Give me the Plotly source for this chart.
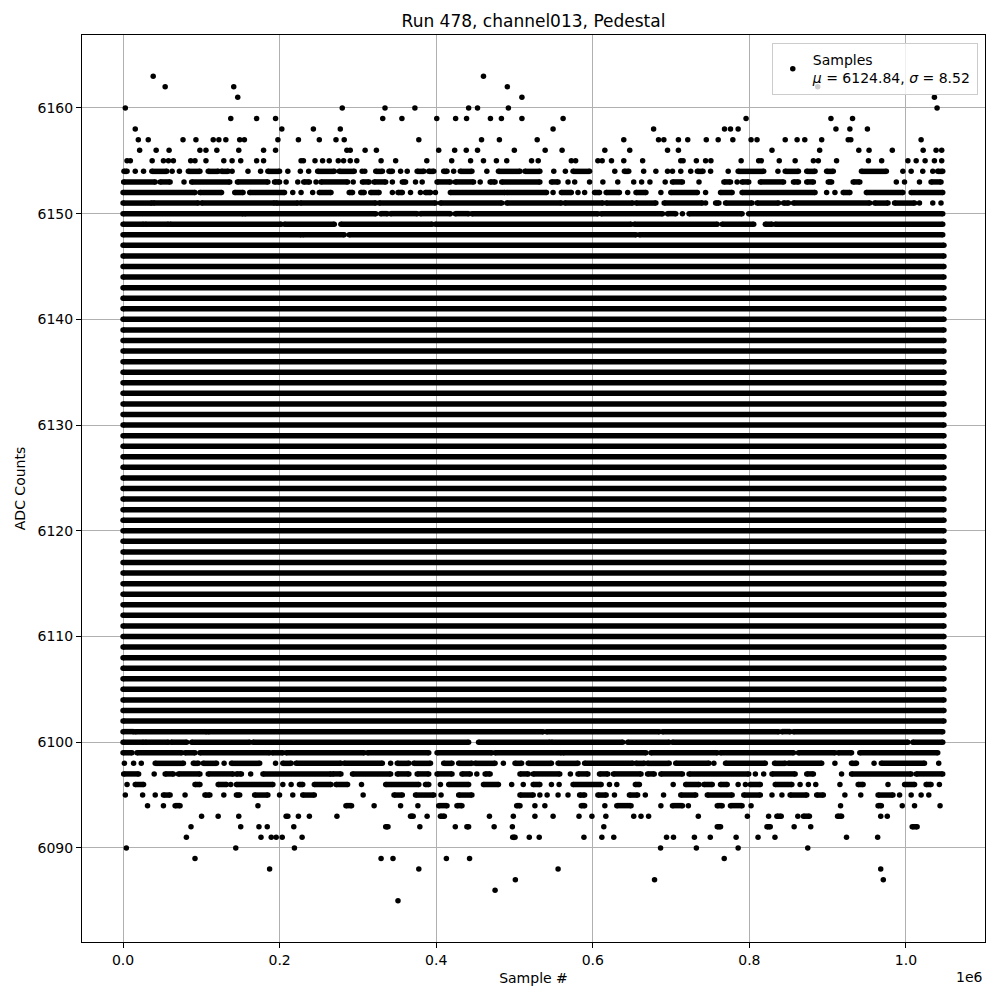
import plotly.graph_objects as go

# ---------------- data (sample positions in thousands of samples) ----------------
X_UNIT = 1000.0
TITLE = "Run 478, channel013, Pedestal"
X_LABEL = "Sample #"
Y_LABEL = "ADC Counts"
LEGEND_NAME = "Samples"
MU = 6124.84
SIGMA = 8.52
N_SAMPLES = 1048576

x_tick_vals = [0.0, 0.2, 0.4, 0.6, 0.8, 1.0]          # in units of 1e6
x_tick_text = ["0.0", "0.2", "0.4", "0.6", "0.8", "1.0"]
y_tick_vals = [6090, 6100, 6110, 6120, 6130, 6140, 6150, 6160]

# ADC levels that are occupied over the whole run
core_levels = [6102, 6103, 6104, 6105, 6106, 6107, 6108, 6109, 6110, 6111, 6112,
               6113, 6114, 6115, 6116, 6117, 6118, 6119, 6120, 6121, 6122, 6123,
               6124, 6125, 6126, 6127, 6128, 6129, 6130, 6131, 6132, 6133, 6134,
               6135, 6136, 6137, 6138, 6139, 6140, 6141, 6142, 6143, 6144, 6145,
               6146, 6147]
core_span = [0.0, 1048.575]

# runs of consecutive samples (start, end) at upper levels
high_runs = {
    6154: [[1.2, 5.1], [36.8, 55.9], [83.4, 98.2], [108.8, 121.5], [125.8, 134.2],
           [185.0, 199.9], [248.6, 269.8], [276.2, 295.3], [322.8, 331.3], [339.7, 344.0],
           [375.7, 384.2], [390.5, 396.9], [409.6, 413.8], [430.8, 445.6], [479.5, 507.0],
           [513.4, 532.4], [574.8, 595.9], [640.4, 645.9], [733.6, 740.8], [785.7, 818.3],
           [845.8, 862.7], [873.3, 883.9], [898.7, 907.2], [943.2, 975.0], [1040.6, 1047.0]],
    6153: [[0.8, 41.1], [47.4, 60.1], [87.6, 136.3], [146.1, 185.0], [193.5, 199.9],
           [230.8, 238.0], [252.8, 286.8], [305.8, 314.3], [320.7, 335.5], [356.7, 360.9],
           [401.1, 418.1], [424.4, 447.7], [468.9, 475.2], [483.7, 532.4], [547.2, 555.7],
           [701.8, 714.5], [767.5, 775.9], [790.7, 799.2], [814.0, 843.7], [856.4, 862.7],
           [873.3, 881.8], [900.8, 905.1], [932.6, 941.1], [1032.1, 1044.8]],
    6152: [[0.0, 91.9], [98.2, 125.8], [142.7, 153.3], [161.8, 206.2], [250.7, 265.6],
           [288.9, 293.1], [303.7, 308.0], [316.4, 327.0], [351.2, 356.7], [386.3, 392.7],
           [418.1, 487.9], [490.1, 540.9], [559.9, 572.6], [602.3, 608.6], [617.1, 634.0],
           [655.2, 667.9], [699.7, 733.6], [763.2, 778.0], [790.7, 883.9], [919.9, 928.4],
           [949.5, 996.1], [1006.7, 1047.0]],
    6151: [[0.0, 36.8], [38.9, 96.1], [100.3, 193.5], [195.6, 223.2], [226.5, 322.8],
           [327.0, 399.0], [405.4, 483.7], [490.1, 559.9], [564.2, 612.9], [617.1, 651.0],
           [655.2, 680.6], [691.2, 739.9], [756.9, 761.1], [769.6, 803.4], [809.8, 837.3],
           [843.7, 850.0], [856.4, 953.8], [960.1, 977.1], [985.5, 1011.0]],
    6150: [[0.0, 153.3], [155.4, 322.8], [329.1, 337.6], [341.8, 375.7], [379.9, 418.1],
           [424.4, 441.4], [445.6, 606.5], [610.7, 689.1], [695.5, 706.0], [723.0, 790.7],
           [799.2, 1047.0]],
    6149: [[0.0, 26.2], [28.4, 58.0], [60.1, 202.0], [206.2, 269.8], [278.3, 394.8],
           [399.0, 648.9], [653.1, 759.0], [765.3, 805.6], [820.4, 828.9], [833.1, 1047.0]],
    6148: [[0.0, 227.4], [229.5, 282.5], [288.9, 655.2], [659.5, 1047.0]],
}

# isolated samples at upper levels
high_points = {
    6163: [38.5, 460.4],
    6162: [53.8, 141.4, 490.9, 887.3],
    6161: [146.5, 509.5, 1036.4],
    6160: [2.9, 280.0, 334.6, 372.8, 441.4, 452.8, 492.2, 1039.8],
    6159: [137.6, 170.6, 194.8, 331.7, 356.2, 400.7, 424.8, 438.8, 469.3, 483.3, 509.5,
           562.1, 795.8, 904.2, 931.8],
    6158: [15.6, 202.8, 243.1, 277.5, 549.3, 677.7, 768.3, 775.9, 785.7, 910.6, 928.4, 950.8],
    6157: [19.5, 32.2, 76.6, 93.1, 115.2, 122.4, 131.3, 149.0, 155.0, 197.8, 224.0, 250.7,
           272.0, 282.5, 377.8, 457.9, 480.7, 529.0, 639.6, 684.0, 690.8, 709.4, 721.3,
           745.0, 760.2, 778.9, 802.2, 809.8, 845.8, 861.0, 870.8, 892.4, 926.3, 929.6, 1019.4],
    6156: [21.2, 42.3, 58.8, 98.2, 105.9, 119.8, 147.8, 179.5, 194.8, 285.9, 290.2, 309.2,
           323.6, 403.2, 423.6, 438.4, 452.8, 499.8, 539.2, 560.8, 615.4, 647.2, 695.5,
           709.4, 828.9, 889.8, 939.8, 952.9, 982.6, 1022.0, 1038.5, 1045.7],
    6155: [5.1, 9.3, 37.2, 51.6, 58.0, 64.3, 86.4, 91.9, 105.9, 128.7, 139.3, 150.3, 170.6,
           179.5, 227.4, 230.4, 245.2, 254.9, 263.4, 274.9, 281.7, 290.2, 298.6, 329.6,
           348.2, 388.0, 419.8, 443.9, 460.4, 476.9, 490.1, 521.8, 530.3, 572.6, 578.1,
           606.5, 612.0, 623.9, 639.6, 663.7, 712.4, 715.4, 732.3, 744.1, 750.9, 789.5,
           811.9, 815.3, 838.2, 858.5, 881.8, 888.1, 911.4, 952.1, 969.0, 1002.5, 1013.1,
           1024.5, 1036.4, 1045.7],
    6154: [15.6, 26.2, 62.7, 72.0, 139.3, 159.6, 175.7, 210.5, 226.5, 237.1, 305.4, 308.8,
           354.5, 363.0, 422.3, 464.7, 550.2, 565.0, 628.1, 665.0, 680.6, 695.5, 701.8,
           712.4, 725.1, 750.5, 773.0, 836.5, 996.1, 1006.7, 1021.5, 1034.3],
    6153: [77.9, 208.3, 223.2, 246.5, 294.0, 344.0, 373.6, 382.1, 456.2, 568.4, 576.9,
           595.9, 612.9, 631.9, 652.3, 662.4, 673.0, 692.5, 735.7, 784.4, 987.7, 998.2, 1017.3],
    6152: [216.8, 227.4, 242.2, 344.0, 367.2, 379.9, 399.0, 549.3, 581.1, 589.6, 644.6,
           687.0, 744.1, 898.7, 909.3],
    6151: [744.1, 1017.3, 1034.3, 1044.8],
    6150: [714.5],
}

# runs of consecutive samples (start, end) at lower levels
low_runs = {
    6101: [[0.0, 13.5], [15.6, 106.7], [108.8, 536.6], [540.9, 684.9], [689.1, 837.3],
           [841.6, 852.1], [856.4, 1047.0]],
    6100: [[0.0, 26.2], [28.4, 58.0], [61.4, 81.3], [87.6, 161.8], [166.0, 441.4],
           [454.1, 545.1], [547.2, 638.3], [644.6, 697.6], [701.8, 1002.5], [1008.8, 1047.0]],
    6099: [[0.0, 11.4], [17.8, 74.9], [79.2, 91.9], [98.2, 187.2], [190.6, 204.1],
           [208.3, 307.9], [312.2, 390.5], [401.1, 471.0], [475.2, 559.9], [562.1, 667.9],
           [674.3, 759.0], [763.2, 856.4], [862.7, 909.3], [913.5, 930.5], [941.1, 1040.6]],
    6098: [[41.1, 77.1], [89.8, 96.1], [102.5, 119.4], [138.5, 174.5], [204.1, 214.7],
           [221.0, 278.3], [282.5, 331.2], [350.3, 365.1], [371.5, 392.7], [409.6, 420.2],
           [428.7, 445.6], [449.8, 475.2], [500.7, 509.1], [517.6, 547.2], [555.7, 581.1],
           [589.6, 651.0], [655.2, 665.8], [670.0, 697.6], [706.0, 748.4], [769.6, 820.4],
           [832.2, 845.8], [850.0, 892.4], [930.5, 936.8], [968.6, 1023.7]],
    6097: [[0.8, 19.9], [53.8, 64.3], [70.7, 98.2], [108.8, 140.6], [144.8, 151.2],
           [178.7, 265.5], [267.7, 278.3], [293.1, 341.8], [350.3, 365.1], [375.7, 390.5],
           [401.1, 420.2], [432.9, 443.5], [462.5, 468.9], [507.0, 517.6], [523.9, 557.8],
           [581.1, 593.8], [608.6, 619.2], [626.4, 661.6], [670.0, 678.5], [687.0, 714.5],
           [723.0, 799.2], [828.9, 858.5], [873.3, 881.8], [930.5, 1006.7], [1013.1, 1047.0]],
    6096: [[15.6, 26.2], [91.9, 98.2], [121.5, 132.1], [144.8, 191.4], [225.3, 229.5],
           [244.3, 265.5], [272.0, 286.8], [335.5, 377.8], [386.3, 390.5], [416.0, 441.4],
           [460.4, 479.5], [523.9, 532.4], [574.8, 610.7], [654.4, 659.5], [718.7, 735.7],
           [742.0, 752.6], [763.2, 771.7], [801.3, 814.0], [833.1, 854.3], [939.0, 945.3],
           [998.3, 1011.0], [1025.8, 1032.1]],
    6095: [[51.6, 60.1], [104.6, 110.9], [144.8, 149.0], [168.1, 185.0], [229.5, 244.3],
           [346.1, 356.7], [373.6, 396.9], [428.7, 445.6], [507.0, 523.9], [583.2, 589.6],
           [606.5, 617.1], [646.8, 657.3], [712.4, 731.5], [746.3, 778.0], [792.9, 814.0],
           [852.1, 873.3], [886.0, 894.5], [964.4, 983.4]],
    6094: [[66.5, 72.8], [284.7, 291.9], [403.2, 413.8], [426.5, 432.9], [502.8, 507.0],
           [585.3, 589.6], [630.7, 648.9], [701.8, 714.5], [759.0, 765.3], [775.9, 790.7],
           [964.4, 968.6]],
    6093: [[367.2, 370.6], [405.4, 410.4], [835.2, 840.7], [869.1, 876.7], [912.7, 917.8]],
    6092: [[335.5, 338.4], [439.2, 441.4], [759.0, 763.2], [822.5, 826.7], [1008.0, 1014.3]],
    6091: [[497.7, 500.7]],
}

# isolated samples at lower levels
low_points = {
    6098: [1.7, 13.5, 23.3, 129.1, 194.8, 341.8, 485.8, 754.7, 909.3, 959.3, 1041.9],
    6097: [39.8, 163.0, 451.9, 571.4, 807.7, 818.3, 917.8],
    6096: [5.1, 137.6, 204.1, 214.7, 304.6, 405.4, 496.4, 511.2, 547.2, 557.0, 621.3,
           630.7, 702.7, 785.7, 795.0, 864.8, 875.4, 884.8, 915.7, 977.1, 1042.7],
    6095: [2.9, 25.0, 41.1, 79.2, 128.7, 199.9, 216.8, 306.7, 406.2, 532.4, 541.7, 555.7,
           568.4, 627.7, 667.1, 690.4, 828.9, 841.6, 922.0, 942.3, 991.9, 1006.7, 1019.4, 1029.2],
    6094: [31.3, 51.6, 172.3, 320.7, 354.5, 376.6, 526.1, 538.8, 615.4, 687.0, 722.1,
           802.2, 916.5, 995.3, 1011.0, 1043.6],
    6093: [100.3, 121.5, 147.8, 208.3, 210.5, 224.0, 238.0, 273.2, 388.4, 468.0, 498.5,
           526.1, 549.3, 582.4, 598.9, 616.7, 652.3, 661.6, 671.3, 734.8, 797.5, 824.6,
           861.9, 967.8, 976.2],
    6092: [86.8, 150.3, 173.6, 184.2, 218.1, 379.1, 424.4, 474.0, 497.3, 614.1, 857.2, 878.4],
    6091: [80.9, 176.2, 189.3, 195.6, 203.3, 228.7, 518.9, 531.6, 588.7, 611.6, 626.8,
           694.2, 703.1, 729.8, 750.1, 783.1, 811.1, 832.7, 924.1, 963.9],
    6090: [4.2, 144.0, 218.9, 686.6, 732.3, 785.7, 874.6],
    6089: [91.9, 329.6, 344.8, 413.0, 442.6, 767.9],
    6088: [187.2, 377.8, 555.7, 967.8],
    6087: [501.1, 678.9, 971.1],
    6086: [475.2],
    6085: [351.2],
}

# ---------------- build traces ----------------
run_x, run_y = [], []
for lvl in core_levels:
    run_x += [core_span[0] * X_UNIT, core_span[1] * X_UNIT, None]
    run_y += [lvl, lvl, None]
for table in (high_runs, low_runs):
    for lvl, runs in table.items():
        for s, e in runs:
            run_x += [s * X_UNIT, e * X_UNIT, None]
            run_y += [lvl, lvl, None]

pt_x, pt_y = [], []
for table in (high_points, low_points):
    for lvl, xs in table.items():
        for s in xs:
            pt_x.append(s * X_UNIT)
            pt_y.append(lvl)

DOT = 5.5
fig = go.Figure()
fig.add_trace(go.Scatter(
    x=run_x, y=run_y, mode="lines+markers",
    line=dict(color="black", width=DOT),
    marker=dict(color="black", size=DOT),
    showlegend=False, hoverinfo="skip", connectgaps=False,
))
fig.add_trace(go.Scatter(
    x=pt_x, y=pt_y, mode="markers",
    marker=dict(color="black", size=DOT),
    name=f"{LEGEND_NAME}<br><i>μ</i> = {MU:.2f}, <i>σ</i> = {SIGMA:.2f}",
    showlegend=True,
))

x_pad = 0.05 * (N_SAMPLES - 1)
y_min, y_max = 6085, 6163
y_pad = 0.05 * (y_max - y_min)

axis_common = dict(
    showgrid=True, gridcolor="#b0b0b0", gridwidth=0.8,
    showline=True, linecolor="black", linewidth=1, mirror=True,
    ticks="outside", ticklen=5, tickwidth=1, tickcolor="black",
    zeroline=False, tickfont=dict(size=14, color="black"),
)

fig.update_layout(
    width=992, height=992,
    margin=dict(l=72, r=15, t=27, b=58),
    plot_bgcolor="white", paper_bgcolor="white",
    font=dict(family="DejaVu Sans", size=14, color="black"),
    title=dict(text=TITLE, x=0.5, xref="paper", xanchor="center",
               y=0.987, yref="container", yanchor="middle",
               font=dict(size=17, color="black")),
    xaxis=dict(range=[-x_pad, (N_SAMPLES - 1) + x_pad],
               tickvals=[v * 1e6 for v in x_tick_vals], ticktext=x_tick_text,
               title=dict(text=X_LABEL, standoff=6, font=dict(size=14)),
               **axis_common),
    yaxis=dict(range=[y_min - y_pad, y_max + y_pad],
               tickvals=y_tick_vals,
               title=dict(text=Y_LABEL, standoff=8, font=dict(size=14)),
               **axis_common),
    legend=dict(x=0.992, y=0.991, xanchor="right", yanchor="top",
                bgcolor="rgba(255,255,255,0.8)", bordercolor="#cccccc", borderwidth=1,
                font=dict(size=14, color="black")),
    annotations=[dict(text="1e6", x=1, xref="paper", xanchor="right",
                      y=-0.0386, yref="paper", yanchor="middle",
                      showarrow=False, font=dict(size=14, color="black"))],
)

fig.write_html("out.html")
